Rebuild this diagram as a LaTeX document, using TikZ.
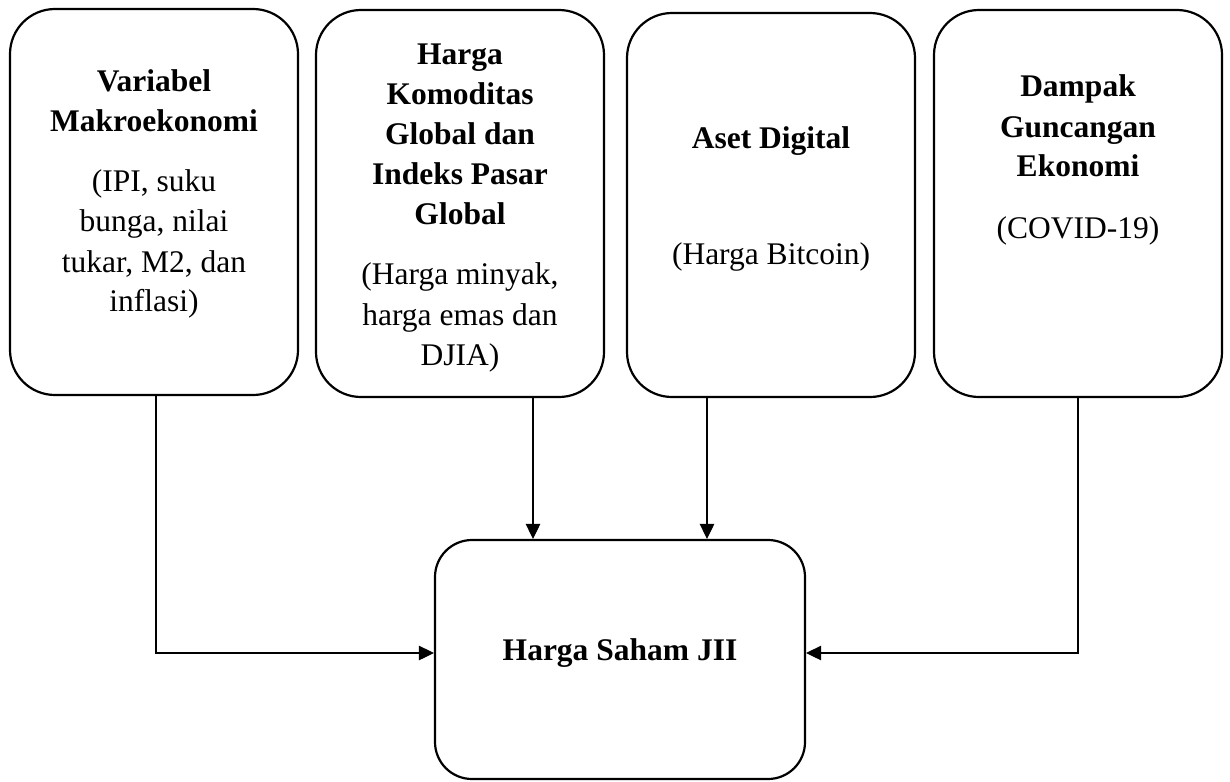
\documentclass[tikz,border=0pt]{standalone}
\usepackage{fontspec}
\setmainfont{Liberation Serif}
\usetikzlibrary{arrows.meta}
\begin{document}
\begin{tikzpicture}[x=1pt,y=-1pt,
  topbox/.style={draw=black,line width=2.2pt,rounded corners=45pt,inner sep=0pt,minimum width=288pt},
  outbox/.style={draw=black,line width=2.2pt,rounded corners=37pt,inner sep=0pt,minimum width=370pt,minimum height=239pt},
  txt/.style={anchor=base,inner sep=0pt,font=\fontsize{31.5}{40}\selectfont},
  arr/.style={draw=black,line width=1.1pt,-{Triangle[length=15pt,width=14.5pt]}}]
\useasboundingbox (0,0) rectangle (1230,781);
\fill[white] (0,0) rectangle (1230,781);
% boxes
\node[topbox,minimum height=386pt] (b1) at (154,202) {};
\node[topbox,minimum height=387pt] (b2) at (460,203.5) {};
\node[topbox,minimum height=384pt] (b3) at (771,205) {};
\node[topbox,minimum height=387pt] (b4) at (1078,203.5) {};
\node[outbox] (out) at (620,659.5) {};
% texts
\node[txt] (t1) at (154,92) {\begin{tabular}[t]{@{}c@{}}\textbf{Variabel}\\ \textbf{Makroekonomi}\\[20pt] (IPI, suku\\ bunga, nilai\\ tukar, M2, dan\\ inflasi)\end{tabular}};
\node[txt] (t2) at (460,65) {\begin{tabular}[t]{@{}c@{}}\textbf{Harga}\\ \textbf{Komoditas}\\ \textbf{Global dan}\\ \textbf{Indeks Pasar}\\ \textbf{Global}\\[20pt] (Harga minyak,\\ harga emas dan\\ DJIA)\end{tabular}};
\node[txt] (t3a) at (771,148) {\textbf{Aset Digital}};
\node[txt] (t3b) at (771,264) {(Harga Bitcoin)};
\node[txt] (t4) at (1078,97) {\begin{tabular}[t]{@{}c@{}}\textbf{Dampak}\\ \textbf{Guncangan}\\ \textbf{Ekonomi}\\[22pt] (COVID-19)\end{tabular}};
\node[txt] (t5) at (620,660) {\textbf{Harga Saham JII}};
% helper coordinates
\coordinate (x1) at (156,0);
\coordinate (x2) at (533,0);
\coordinate (x3) at (707,0);
\coordinate (x4) at (1078,0);
\coordinate (yh) at (0,653);
% connectors
\draw[arr] (b1.south -| x1) |- (out.west |- yh);
\draw[arr] (b2.south -| x2) -- (out.north -| x2);
\draw[arr] (b3.south -| x3) -- (out.north -| x3);
\draw[arr] (b4.south -| x4) |- (out.east |- yh);
\end{tikzpicture}
\end{document}
